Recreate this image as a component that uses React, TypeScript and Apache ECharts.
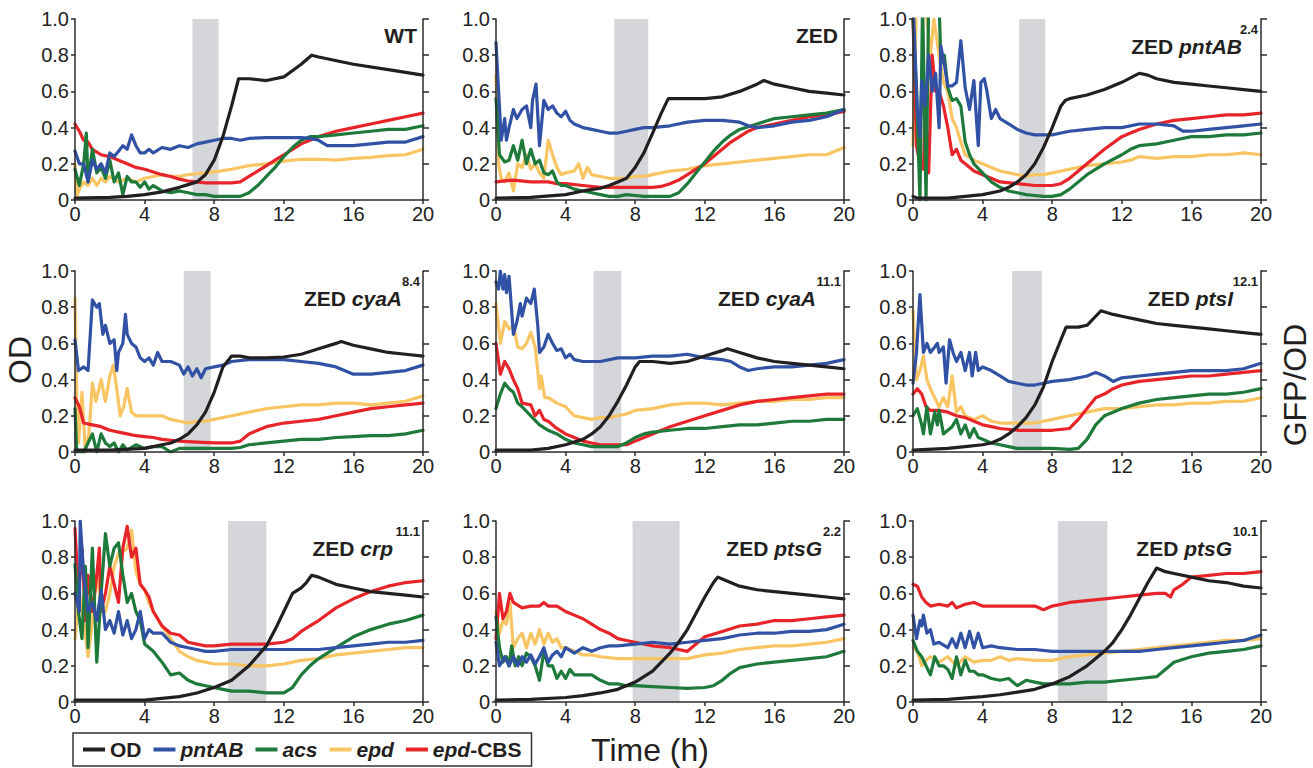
import React, { useEffect, useRef } from "react";
import * as echarts from "echarts";

// ---- data: flat [t, v, t, v, ...] lists ----
const WT_OD = [0,.01, 2,.015, 3,.02, 4,.03, 5,.045, 6,.07, 6.5,.085, 7,.1, 7.5,.14, 8,.22, 8.5,.35, 9,.52, 9.4,.67, 10,.67, 11,.66, 12,.68, 13,.75, 13.6,.8, 14,.79, 16,.75, 18,.72, 20,.69];
const WT_PNT = [0,.27, .25,.2, .5,.2, .75,.1, 1,.22, 1.25,.17, 1.5,.2, 1.75,.15, 2,.26, 2.25,.24, 2.5,.27, 2.75,.3, 3,.28, 3.25,.36, 3.5,.3, 3.75,.26, 4,.26, 4.25,.28, 4.5,.26, 5,.29, 5.5,.28, 6,.3, 6.5,.29, 7,.31, 7.5,.32, 8,.33, 8.5,.34, 9,.34, 9.5,.33, 10,.34, 11,.345, 12,.345, 13,.345, 13.5,.34, 14,.33, 14.5,.3, 15,.3, 16,.3, 17,.31, 18,.32, 19,.32, 20,.35];
const WT_ACS = [0,.17, .25,.08, .5,.2, .65,.37, .75,.1, 1,.28, 1.25,.15, 1.5,.18, 1.75,.12, 2,.22, 2.25,.1, 2.5,.15, 2.75,.03, 3,.13, 3.25,.1, 3.5,.1, 3.75,.07, 4,.1, 4.25,.06, 4.5,.08, 5,.05, 5.5,.04, 6,.05, 6.5,.04, 7,.03, 7.5,.03, 8,.02, 8.5,.02, 9,.02, 9.5,.02, 10,.04, 10.5,.08, 11,.13, 11.5,.18, 12,.24, 12.5,.29, 13,.33, 13.5,.35, 14,.35, 15,.36, 16,.37, 17,.38, 18,.39, 19,.39, 20,.41];
const WT_EPD = [0,.2, .1,.02, .25,.06, .5,.1, .75,.08, 1,.12, 1.25,.08, 1.5,.12, 1.75,.1, 2,.13, 2.5,.1, 3,.12, 3.5,.1, 4,.12, 4.5,.13, 5,.14, 5.5,.13, 6,.13, 6.5,.14, 7,.145, 7.5,.15, 8,.155, 9,.17, 10,.19, 11,.2, 12,.215, 13,.225, 14,.225, 15,.22, 16,.23, 17,.235, 18,.245, 19,.25, 20,.28];
const WT_CBS = [0,.42, .25,.38, .5,.33, .75,.32, 1,.28, 1.5,.25, 2,.24, 2.5,.22, 3,.2, 3.5,.18, 4,.17, 4.5,.155, 5,.14, 5.5,.13, 6,.115, 6.5,.105, 7,.1, 7.5,.095, 8,.095, 8.5,.095, 9,.095, 9.5,.1, 10,.13, 10.5,.16, 11,.19, 11.5,.22, 12,.25, 12.5,.28, 13,.31, 13.5,.33, 14,.35, 15,.38, 16,.4, 17,.42, 18,.44, 19,.46, 20,.48];

const ZED_OD = [0,.01, 2,.015, 4,.03, 5,.05, 6,.065, 6.5,.08, 7,.1, 7.5,.12, 8,.18, 8.5,.26, 9,.37, 9.5,.48, 9.9,.56, 10.5,.56, 11,.56, 12,.56, 13,.57, 14,.6, 15,.64, 15.4,.66, 16,.64, 17,.62, 18,.6, 19,.59, 20,.58];
const ZED_PNT = [0,.87, .15,.6, .3,.33, .5,.45, .6,.33, .75,.4, 1,.5, 1.2,.45, 1.5,.5, 1.75,.52, 2,.4, 2.1,.55, 2.3,.64, 2.5,.3, 2.75,.55, 3,.5, 3.25,.52, 3.5,.48, 3.75,.46, 4,.49, 4.25,.44, 4.5,.42, 5,.4, 5.5,.39, 6,.38, 6.5,.37, 7,.37, 7.5,.38, 8,.39, 8.5,.4, 9,.4, 10,.41, 11,.43, 12,.44, 13,.44, 14,.43, 14.5,.41, 15,.4, 16,.41, 17,.43, 18,.44, 19,.46, 20,.5];
const ZED_ACS = [0,.56, .2,.25, .5,.21, .75,.22, 1,.3, 1.25,.22, 1.5,.33, 1.75,.2, 2,.28, 2.25,.2, 2.5,.22, 2.75,.15, 3,.14, 3.25,.16, 3.5,.1, 3.75,.08, 4,.08, 4.5,.06, 5,.05, 5.5,.04, 6,.03, 6.5,.02, 7,.02, 7.5,.03, 8,.025, 8.5,.02, 9,.02, 9.5,.02, 10,.02, 10.5,.04, 11,.09, 11.5,.15, 12,.21, 12.5,.27, 13,.32, 13.5,.36, 14,.39, 15,.42, 16,.45, 17,.46, 18,.47, 19,.48, 20,.5];
const ZED_EPD = [0,.69, .15,.2, .3,.12, .5,.1, .75,.15, 1,.05, 1.25,.2, 1.5,.18, 1.75,.25, 2,.17, 2.25,.2, 2.5,.15, 2.75,.12, 3,.33, 3.25,.25, 3.5,.18, 3.75,.14, 4,.15, 4.5,.16, 4.75,.2, 5,.12, 5.25,.18, 5.5,.14, 6,.13, 6.5,.12, 7,.12, 7.5,.12, 8,.13, 8.5,.13, 9,.14, 10,.16, 11,.17, 12,.19, 13,.2, 14,.21, 15,.22, 16,.23, 17,.24, 18,.25, 19,.25, 20,.29];
const ZED_CBS = [0,.1, 1,.11, 2,.1, 3,.1, 3.5,.09, 4,.09, 5,.08, 6,.07, 7,.07, 8,.07, 9,.07, 9.5,.075, 10,.09, 10.5,.11, 11,.14, 11.5,.17, 12,.2, 12.5,.24, 13,.28, 13.5,.32, 14,.35, 14.5,.38, 15,.4, 16,.42, 17,.44, 18,.46, 19,.47, 20,.49];

const PNT_OD = [0,.02, .25,.01, 1,.01, 2,.01, 3,.02, 4,.03, 5,.05, 5.5,.07, 6,.1, 6.5,.14, 7,.2, 7.5,.29, 8,.4, 8.5,.52, 8.75,.55, 9,.56, 10,.58, 11,.61, 12,.65, 12.8,.69, 13,.7, 13.5,.69, 14,.67, 15,.65, 16,.64, 17,.63, 18,.62, 19,.61, 20,.6];
const PNT_PNT = [0,1.1, .25,.5, .4,.35, .5,.66, .7,.52, .9,.8, 1.1,.6, 1.3,.7, 1.5,.4, 1.6,.85, 1.8,.75, 2,.63, 2.25,.63, 2.5,.65, 2.75,.88, 3,.62, 3.25,.5, 3.5,.66, 3.75,.3, 3.9,.65, 4.1,.67, 4.25,.6, 4.5,.45, 4.75,.5, 5,.45, 5.5,.42, 6,.39, 6.5,.37, 7,.36, 7.5,.36, 8,.36, 8.5,.37, 9,.38, 10,.39, 11,.4, 12,.4, 13,.42, 14,.42, 15,.41, 15.5,.38, 16,.38, 17,.39, 18,.4, 19,.41, 20,.42];
const PNT_ACS = [0,1.0, .2,.6, .4,0, .55,1.1, .75,0, .9,1.1, 1.2,1.1, 1.5,1.1, 1.6,.75, 1.8,.8, 2,.62, 2.25,.55, 2.5,.56, 2.75,.52, 3,.32, 3.25,.25, 3.5,.2, 4,.15, 4.5,.1, 5,.07, 5.5,.05, 6,.04, 6.5,.03, 7,.025, 7.5,.02, 8,.02, 8.5,.03, 9,.06, 10,.14, 11,.2, 12,.25, 12.5,.28, 13,.3, 14,.31, 15,.33, 16,.35, 17,.35, 18,.36, 19,.36, 20,.37];
const PNT_EPD = [0,.3, .2,1.1, .5,1.1, .8,1.0, 1,.8, 1.2,1.0, 1.5,.8, 1.75,.65, 2,.6, 2.25,.45, 2.5,.4, 2.75,.32, 3,.25, 3.5,.22, 4,.2, 4.5,.18, 5,.16, 5.5,.15, 6,.14, 6.5,.13, 7,.14, 7.5,.14, 8,.15, 9,.17, 10,.19, 11,.2, 12,.21, 12.5,.22, 13,.24, 14,.23, 15,.24, 16,.24, 17,.25, 18,.25, 19,.26, 20,.25];
const PNT_CBS = [0,1.0, .2,.3, .4,.2, .6,.17, .7,.5, .9,.15, 1.1,.8, 1.3,.6, 1.5,.6, 1.75,.52, 2,.4, 2.25,.25, 2.5,.28, 2.75,.22, 3,.2, 3.5,.16, 4,.14, 4.5,.12, 5,.1, 6,.09, 7,.08, 8,.08, 8.5,.09, 9,.12, 10,.2, 11,.28, 12,.35, 12.5,.37, 13,.39, 14,.42, 15,.44, 16,.45, 17,.46, 18,.47, 19,.47, 20,.48];

const CYA8_OD = [0,.01, 2,.01, 4,.02, 5,.04, 5.5,.05, 6,.07, 6.5,.1, 7,.15, 7.5,.22, 8,.33, 8.5,.47, 9,.53, 9.5,.53, 10,.52, 11,.52, 12,.525, 13,.54, 14,.57, 15,.6, 15.3,.61, 16,.59, 17,.57, 18,.55, 19,.54, 20,.53];
const CYA8_PNT = [0,.62, .2,.45, .5,.47, .75,.45, 1,.84, 1.25,.8, 1.4,.82, 1.6,.65, 1.75,.7, 2,.6, 2.25,.62, 2.4,.45, 2.5,.55, 2.75,.6, 2.9,.76, 3,.65, 3.25,.6, 3.5,.58, 3.75,.52, 4,.5, 4.25,.52, 4.5,.48, 4.75,.55, 5,.5, 5.5,.5, 6,.48, 6.25,.43, 6.5,.47, 6.75,.42, 7,.46, 7.25,.41, 7.5,.46, 8,.47, 8.5,.48, 9,.5, 10,.51, 11,.51, 12,.51, 13,.5, 14,.49, 15,.47, 16,.43, 17,.43, 18,.44, 19,.45, 20,.48];
const CYA8_ACS = [0,.24, .1,0, .5,0, .75,.05, 1,.1, 1.25,0, 1.5,.1, 1.75,.05, 2,.03, 2.25,.05, 2.5,0, 2.75,.04, 3,.01, 3.5,.04, 4,.02, 4.5,.03, 5,.03, 5.5,0, 6,.02, 6.5,.02, 7,.02, 8,.02, 9,.02, 9.5,.025, 10,.04, 11,.05, 12,.06, 13,.07, 14,.07, 15,.08, 16,.085, 17,.09, 18,.09, 19,.1, 20,.12];
const CYA8_EPD = [0,.85, .1,.3, .2,.05, .4,.33, .6,0, .8,.1, 1,.38, 1.2,.28, 1.5,.4, 1.75,.28, 2,.42, 2.2,.48, 2.4,.35, 2.6,.2, 2.8,.25, 3,.35, 3.25,.22, 3.5,.2, 4,.2, 4.5,.2, 5,.2, 5.5,.18, 6,.17, 6.5,.16, 7,.17, 7.5,.17, 8,.18, 9,.2, 10,.22, 11,.24, 12,.25, 13,.26, 14,.26, 15,.27, 16,.27, 17,.26, 18,.27, 19,.28, 20,.31];
const CYA8_CBS = [0,.3, .25,.25, .5,.16, 1,.15, 1.5,.14, 2,.12, 2.5,.11, 3,.1, 3.5,.09, 4,.085, 4.5,.08, 5,.07, 5.5,.065, 6,.06, 7,.055, 8,.05, 9,.05, 9.5,.06, 10,.1, 11,.14, 12,.16, 13,.17, 14,.18, 15,.2, 16,.22, 17,.24, 18,.25, 19,.26, 20,.27];

const CYA11_OD = [0,.01, 2,.01, 3,.02, 4,.04, 5,.07, 5.5,.1, 6,.14, 6.5,.2, 7,.28, 7.5,.37, 8,.47, 8.25,.5, 9,.5, 10,.49, 11,.5, 12,.53, 13,.56, 13.3,.57, 14,.55, 15,.52, 16,.5, 17,.49, 18,.48, 19,.47, 20,.46];
const CYA11_PNT = [0,.94, .15,.9, .25,1.0, .4,.9, .5,.98, .6,.88, .75,.97, 1,.65, 1.2,.72, 1.4,.82, 1.5,.75, 1.75,.85, 2,.82, 2.2,.9, 2.4,.7, 2.5,.55, 2.75,.58, 3,.65, 3.25,.6, 3.5,.56, 3.75,.57, 4,.52, 4.25,.54, 4.5,.51, 5,.5, 5.5,.5, 6,.5, 7,.52, 8,.52, 9,.53, 10,.53, 11,.54, 12,.52, 13,.51, 13.5,.5, 14,.47, 14.5,.45, 15,.46, 16,.47, 17,.47, 18,.48, 19,.49, 20,.51];
const CYA11_ACS = [0,.24, .25,.32, .5,.38, .75,.35, 1,.33, 1.25,.27, 1.5,.25, 2,.2, 2.5,.15, 3,.12, 3.5,.1, 4,.07, 4.5,.05, 5,.04, 5.5,.03, 6,.03, 6.5,.03, 7,.03, 7.5,.05, 8,.08, 8.5,.1, 9,.11, 10,.12, 11,.13, 12,.13, 13,.14, 14,.15, 15,.15, 16,.16, 17,.17, 18,.17, 19,.18, 20,.18];
const CYA11_EPD = [0,.82, .25,.6, .5,.72, .75,.68, 1,.7, 1.25,.58, 1.5,.57, 1.75,.6, 2,.66, 2.25,.58, 2.4,.45, 2.5,.35, 2.6,.42, 2.8,.3, 3,.3, 3.5,.27, 4,.25, 4.5,.2, 5,.19, 5.5,.18, 6,.19, 6.5,.19, 7,.2, 7.5,.21, 8,.23, 9,.24, 10,.26, 11,.27, 12,.27, 13,.26, 14,.27, 15,.28, 16,.28, 17,.29, 18,.29, 19,.3, 20,.3];
const CYA11_CBS = [0,.6, .25,.43, .5,.5, .75,.46, 1,.4, 1.25,.35, 1.5,.27, 2,.26, 2.25,.2, 2.5,.23, 2.75,.18, 3,.17, 3.5,.13, 4,.1, 4.5,.08, 5,.06, 5.5,.05, 6,.04, 6.5,.04, 7,.04, 7.5,.04, 8,.06, 9,.1, 10,.14, 11,.17, 12,.2, 13,.23, 14,.26, 15,.28, 16,.29, 17,.3, 18,.31, 19,.32, 20,.32];

const PTSI_OD = [0,.01, 2,.02, 3,.03, 4,.04, 4.5,.05, 5,.07, 5.5,.1, 6,.14, 6.5,.19, 7,.26, 7.5,.36, 8,.5, 8.5,.62, 8.8,.69, 9.5,.69, 10,.7, 10.5,.75, 10.8,.78, 11.5,.76, 12,.75, 13,.73, 14,.71, 15,.7, 16,.69, 17,.68, 18,.67, 19,.66, 20,.65];
const PTSI_PNT = [0,.38, .2,.55, .4,.87, .6,.55, .8,.6, 1,.55, 1.25,.58, 1.4,.6, 1.5,.55, 1.75,.58, 1.9,.38, 2.1,.62, 2.3,.55, 2.5,.5, 2.75,.55, 3,.45, 3.25,.55, 3.4,.42, 3.6,.55, 3.75,.45, 4,.47, 4.5,.45, 5,.42, 5.5,.39, 6,.38, 6.5,.37, 7,.37, 7.5,.38, 8,.39, 9,.4, 10,.42, 10.5,.44, 11,.42, 11.5,.39, 12,.41, 13,.42, 14,.43, 15,.44, 16,.45, 17,.45, 18,.45, 19,.46, 20,.49];
const PTSI_ACS = [0,.2, .25,.24, .5,.15, .6,.1, .8,.25, 1,.1, 1.25,.22, 1.4,.15, 1.5,.23, 1.75,.1, 2,.12, 2.25,.14, 2.5,.18, 2.75,.1, 3,.15, 3.25,.08, 3.5,.13, 3.75,.08, 4,.07, 4.5,.05, 5,.04, 5.5,.03, 6,.02, 7,.02, 8,.02, 9,.015, 9.5,.02, 10,.07, 10.5,.15, 11,.2, 11.5,.22, 12,.24, 13,.27, 14,.29, 15,.3, 16,.31, 17,.32, 18,.32, 19,.33, 20,.35];
const PTSI_EPD = [0,.78, .2,.4, .4,.45, .6,.53, .8,.4, 1,.35, 1.25,.3, 1.5,.25, 1.75,.3, 2,.25, 2.25,.42, 2.5,.22, 2.75,.25, 3,.2, 3.5,.18, 4,.2, 4.5,.17, 5,.16, 6,.16, 7,.16, 8,.18, 9,.2, 10,.22, 11,.24, 12,.24, 13,.25, 14,.26, 15,.26, 16,.27, 17,.27, 18,.28, 19,.28, 20,.3];
const PTSI_CBS = [0,.32, .25,.35, .5,.32, .75,.25, 1,.23, 1.5,.23, 2,.22, 2.5,.2, 3,.19, 3.5,.17, 4,.15, 4.5,.14, 5,.13, 6,.12, 7,.12, 8,.12, 9,.13, 9.5,.18, 10,.24, 10.5,.3, 11,.32, 11.5,.35, 12,.37, 13,.39, 14,.4, 15,.41, 16,.42, 17,.42, 18,.43, 19,.44, 20,.45];

const CRP_OD = [0,.01, 2,.01, 4,.01, 5,.02, 6,.03, 7,.05, 8,.08, 9,.12, 10,.2, 11,.31, 11.5,.4, 12,.5, 12.5,.6, 13,.63, 13.3,.66, 13.6,.7, 14,.69, 15,.65, 16,.63, 17,.61, 18,.6, 19,.59, 20,.58];
const CRP_PNT = [0,.6, .25,.5, .3,1.0, .5,.7, .75,.5, 1,.55, 1.25,.45, 1.5,.62, 1.75,.4, 2,.45, 2.25,.38, 2.5,.5, 2.75,.37, 3,.45, 3.25,.35, 3.5,.4, 3.75,.5, 4,.35, 4.25,.4, 4.5,.38, 5,.38, 5.5,.33, 6,.31, 6.5,.3, 7,.29, 7.5,.28, 8,.28, 9,.29, 10,.29, 11,.29, 12,.29, 13,.29, 14,.29, 15,.3, 16,.31, 17,.32, 18,.33, 19,.33, 20,.34];
const CRP_ACS = [0,.76, .2,.5, .4,.35, .6,.75, .75,.3, 1,.85, 1.25,.22, 1.5,.6, 1.75,.93, 2,.75, 2.25,.85, 2.5,.88, 2.75,.7, 3,.55, 3.25,.6, 3.5,.5, 3.75,.45, 4,.32, 4.5,.28, 5,.22, 5.5,.15, 6,.16, 6.5,.12, 7,.1, 7.5,.09, 8,.08, 8.5,.07, 9,.06, 10,.06, 11,.05, 12,.05, 12.5,.08, 13,.15, 13.5,.2, 14,.24, 15,.3, 16,.36, 17,.4, 18,.43, 19,.45, 20,.48];
const CRP_EPD = [0,.35, .25,.6, .5,.45, .75,.25, 1,.45, 1.25,.7, 1.5,.55, 1.75,.5, 2,.6, 2.25,.75, 2.5,.82, 2.75,.83, 3,.85, 3.25,.95, 3.5,.72, 3.75,.65, 4,.62, 4.25,.55, 4.5,.5, 5,.42, 5.5,.35, 6,.28, 6.5,.25, 7,.23, 7.5,.22, 8,.21, 9,.21, 10,.2, 11,.2, 12,.21, 13,.23, 14,.24, 15,.26, 16,.27, 17,.28, 18,.29, 19,.3, 20,.3];
const CRP_CBS = [0,.96, .2,.6, .4,.85, .6,.45, .75,.7, 1,.5, 1.25,.7, 1.4,.85, 1.5,.5, 1.75,.6, 2,.75, 2.25,.65, 2.5,.55, 2.75,.85, 3,.97, 3.25,.8, 3.5,.85, 3.75,.65, 4,.62, 4.25,.58, 4.5,.5, 5,.42, 5.5,.38, 6,.37, 6.5,.33, 7,.32, 7.5,.31, 8,.31, 9,.32, 10,.32, 11,.32, 12,.33, 12.5,.35, 13,.39, 13.5,.42, 14,.45, 15,.52, 16,.57, 17,.61, 18,.64, 19,.66, 20,.67];

const G22_OD = [0,.01, 2,.015, 4,.025, 5,.035, 6,.05, 7,.07, 8,.11, 9,.17, 10,.27, 10.5,.33, 11,.4, 11.5,.49, 12,.58, 12.5,.66, 12.75,.69, 13,.68, 14,.64, 15,.62, 16,.61, 17,.6, 18,.59, 19,.58, 20,.57];
const G22_PNT = [0,.33, .2,.2, .5,.25, .75,.2, 1,.25, 1.25,.2, 1.5,.25, 1.75,.22, 2,.26, 2.25,.21, 2.5,.25, 2.75,.3, 3,.22, 3.25,.26, 3.5,.28, 3.75,.25, 4,.3, 4.5,.27, 5,.3, 5.5,.28, 6,.3, 6.5,.31, 7,.31, 8,.32, 9,.33, 10,.32, 11,.33, 12,.34, 13,.35, 14,.37, 15,.38, 16,.38, 17,.39, 18,.39, 19,.4, 20,.43];
const G22_ACS = [0,.47, .2,.3, .4,.22, .6,.25, .75,.2, .9,.31, 1.1,.2, 1.3,.25, 1.5,.2, 1.75,.27, 2,.25, 2.25,.2, 2.5,.12, 2.75,.28, 3,.2, 3.25,.2, 3.5,.13, 3.75,.17, 4,.13, 4.25,.18, 4.5,.15, 5,.15, 5.5,.15, 6,.12, 6.5,.1, 7,.1, 7.5,.09, 8,.09, 9,.085, 10,.08, 11,.075, 12,.08, 12.5,.09, 13,.12, 13.5,.16, 14,.19, 15,.21, 16,.22, 17,.23, 18,.24, 19,.25, 20,.28];
const G22_EPD = [0,.5, .2,.38, .4,.45, .6,.43, .8,.55, 1,.3, 1.25,.35, 1.5,.38, 1.75,.3, 2,.38, 2.25,.32, 2.5,.4, 2.75,.32, 3,.38, 3.25,.33, 3.5,.35, 3.75,.3, 4,.3, 4.5,.28, 5,.26, 5.5,.26, 6,.25, 7,.24, 8,.24, 9,.24, 10,.24, 11,.24, 12,.26, 13,.27, 14,.29, 15,.3, 16,.31, 17,.31, 18,.32, 19,.33, 20,.35];
const G22_CBS = [0,.35, .2,.6, .4,.46, .6,.5, .8,.6, 1,.55, 1.5,.52, 2,.53, 2.5,.53, 2.75,.55, 3,.53, 3.5,.53, 4,.5, 4.5,.48, 5,.46, 5.5,.43, 6,.4, 6.5,.38, 7,.35, 7.5,.34, 8,.33, 9,.31, 10,.3, 10.5,.29, 11,.28, 11.5,.32, 12,.36, 13,.39, 14,.42, 15,.43, 16,.45, 17,.45, 18,.46, 19,.47, 20,.48];

const G101_OD = [0,.01, 2,.015, 4,.03, 5,.04, 6,.055, 7,.07, 8,.1, 9,.14, 10,.2, 11,.28, 11.5,.33, 12,.4, 12.5,.48, 13,.57, 13.5,.66, 14,.74, 14.5,.72, 15,.71, 16,.69, 17,.67, 18,.66, 19,.64, 20,.63];
const G101_PNT = [0,.48, .2,.35, .4,.45, .5,.42, .6,.48, .8,.38, 1,.4, 1.2,.32, 1.5,.33, 2,.3, 2.25,.35, 2.5,.3, 2.75,.38, 3,.3, 3.25,.39, 3.5,.3, 3.75,.38, 4,.3, 4.5,.31, 5,.3, 6,.29, 7,.29, 8,.28, 9,.28, 10,.28, 11,.28, 12,.28, 13,.28, 14,.29, 15,.3, 16,.31, 17,.32, 18,.33, 19,.34, 20,.37];
const G101_ACS = [0,.34, .25,.28, .5,.25, .75,.2, 1,.15, 1.25,.25, 1.5,.2, 1.75,.2, 2,.18, 2.25,.13, 2.5,.25, 2.75,.15, 3,.23, 3.25,.17, 3.5,.17, 3.75,.15, 4,.15, 4.5,.13, 5,.12, 5.5,.13, 6,.09, 6.5,.12, 7,.11, 7.5,.1, 8,.1, 9,.1, 10,.11, 11,.11, 12,.12, 13,.13, 14,.14, 14.5,.18, 15,.22, 16,.25, 17,.27, 18,.28, 19,.29, 20,.31];
const G101_EPD = [0,.3, .25,.28, .5,.2, .75,.23, 1,.25, 1.5,.22, 2,.25, 2.5,.2, 3,.25, 3.5,.22, 4,.23, 4.5,.23, 5,.25, 5.5,.23, 6,.24, 7,.23, 8,.23, 9,.25, 10,.26, 11,.27, 12,.28, 13,.29, 14,.3, 15,.31, 16,.32, 17,.33, 18,.34, 19,.34, 20,.35];
const G101_CBS = [0,.65, .25,.64, .5,.58, .75,.55, 1,.53, 1.5,.54, 2,.53, 2.25,.55, 2.5,.52, 3,.54, 3.5,.55, 4,.53, 5,.53, 6,.53, 7,.53, 7.5,.51, 8,.53, 9,.55, 10,.56, 11,.57, 12,.58, 13,.59, 14,.6, 14.5,.6, 14.8,.58, 15,.62, 15.5,.65, 16,.69, 17,.7, 18,.71, 19,.71, 20,.72];

// shaded time windows (h)
const SHADES = [[6.75, 8.25], [6.8, 8.75], [6.1, 7.6], [6.25, 7.8], [5.6, 7.2], [5.7, 7.4], [8.8, 11.0], [7.85, 10.55], [8.33, 11.17]];
const TITLES_MAIN = ["WT", "ZED", "ZED", "ZED", "ZED", "ZED", "ZED", "ZED", "ZED"];
const TITLES_GENE = ["", "", "pntAB", "cyaA", "cyaA", "ptsI", "crp", "ptsG", "ptsG"];
const TITLES_SUP = ["", "", "2.4", "8.4", "11.1", "12.1", "11.1", "2.2", "10.1"];
const TITLE_RIGHT_OFFSET = [6, 6, 19, 21, 28, 28, 30, 22, 29];

const SERIES_NAMES = ["OD", "pntAB", "acs", "epd", "epd-CBS"];

const PANEL_DATA = [
  [WT_OD, WT_PNT, WT_ACS, WT_EPD, WT_CBS],
  [ZED_OD, ZED_PNT, ZED_ACS, ZED_EPD, ZED_CBS],
  [PNT_OD, PNT_PNT, PNT_ACS, PNT_EPD, PNT_CBS],
  [CYA8_OD, CYA8_PNT, CYA8_ACS, CYA8_EPD, CYA8_CBS],
  [CYA11_OD, CYA11_PNT, CYA11_ACS, CYA11_EPD, CYA11_CBS],
  [PTSI_OD, PTSI_PNT, PTSI_ACS, PTSI_EPD, PTSI_CBS],
  [CRP_OD, CRP_PNT, CRP_ACS, CRP_EPD, CRP_CBS],
  [G22_OD, G22_PNT, G22_ACS, G22_EPD, G22_CBS],
  [G101_OD, G101_PNT, G101_ACS, G101_EPD, G101_CBS],
];

const COLORS = ["#231f20", "#3152a4", "#1d7a3b", "#f9c563", "#e6242a"];
const FONT = "'Liberation Sans', Arial, sans-serif";

function toPairs(a: number[]): number[][] {
  const out: number[][] = [];
  for (let i = 0; i + 1 < a.length; i += 2) out.push([a[i], a[i + 1]]);
  return out;
}

const COL_LEFT = [75, 496, 913];
const ROW_TOP = [19, 271, 521];
const GW = 348;
const GH = 181;

function buildOption() {
  const grid: any[] = [];
  const xAxis: any[] = [];
  const yAxis: any[] = [];
  const series: any[] = [];
  const graphic: any[] = [];
  const axisColor = "#2b2b2b";

  PANEL_DATA.forEach((lines, i) => {
    const left = COL_LEFT[i % 3];
    const top = ROW_TOP[Math.floor(i / 3)];
    grid.push({ left, top, width: GW, height: GH, containLabel: false });
    xAxis.push({
      type: "value", gridIndex: i, min: 0, max: 20, interval: 4,
      axisLine: { show: true, lineStyle: { color: axisColor, width: 1.5 } },
      axisTick: { show: true, length: 4, lineStyle: { color: axisColor, width: 1.5 } },
      axisLabel: { color: "#222", fontSize: 20, fontFamily: FONT, margin: 4 },
      splitLine: { show: false },
      z: 10,
    });
    yAxis.push({
      type: "value", gridIndex: i, min: 0, max: 1, interval: 0.2, position: "left",
      axisLine: { show: true, lineStyle: { color: axisColor, width: 1.5 } },
      axisTick: { show: true, length: 4, lineStyle: { color: axisColor, width: 1.5 } },
      axisLabel: { color: "#222", fontSize: 20, fontFamily: FONT, margin: 6,
        formatter: (v: number) => (v === 0 ? "0" : v.toFixed(1)) },
      splitLine: { show: false },
      z: 10,
    });
    yAxis.push({
      type: "value", gridIndex: i, min: 0, max: 1, interval: 0.2, position: "right",
      axisLine: { show: true, lineStyle: { color: axisColor, width: 1.5 } },
      axisTick: { show: true, length: 6, lineStyle: { color: axisColor, width: 1.5 } },
      axisLabel: { show: false },
      splitLine: { show: false },
      z: 10,
    });

    // shaded band in its own bottom-most series
    series.push({
      type: "line", name: "band" + i, xAxisIndex: i, yAxisIndex: 2 * i,
      data: [], z: 1, silent: true, showSymbol: false,
      markArea: {
        silent: true,
        itemStyle: { color: "#d4d6d9" },
        data: [[{ xAxis: SHADES[i][0] }, { xAxis: SHADES[i][1] }]],
      },
    });

    // draw order: epd, epd-CBS, acs, pntAB, OD (on top)
    const order = [3, 4, 2, 1, 0];
    order.forEach((k, j) => {
      series.push({
        type: "line", name: SERIES_NAMES[k], xAxisIndex: i, yAxisIndex: 2 * i,
        data: toPairs(lines[k]), showSymbol: false, symbol: "none", clip: true,
        z: 3 + j,
        lineStyle: { color: COLORS[k], width: 3.2, join: "round", cap: "round" },
        itemStyle: { color: COLORS[k] },
        emphasis: { disabled: true },
      });
    });

    // titles
    const right = left + GW;
    const gene = TITLES_GENE[i];
    const sup = TITLES_SUP[i];
    const text = gene ? `{n|${TITLES_MAIN[i]} }{g|${gene}}` : `{n|${TITLES_MAIN[i]}}`;
    graphic.push({
      type: "text", z: 100,
      x: right - TITLE_RIGHT_OFFSET[i],
      y: top + (sup ? 38 : 27),
      style: {
        text,
        align: "right", verticalAlign: "bottom",
        rich: {
          n: { fontSize: 21, fontWeight: "bold", fontFamily: FONT, fill: "#231f20" },
          g: { fontSize: 21, fontWeight: "bold", fontStyle: "italic", fontFamily: FONT, fill: "#231f20" },
        },
      },
    });
    if (sup) {
      graphic.push({
        type: "text", z: 100, x: right - 3, y: top + 4,
        style: { text: sup, align: "right", verticalAlign: "top",
          font: `bold 13px ${FONT}`, fill: "#231f20" },
      });
    }
  });

  graphic.push({
    type: "text", x: 20, y: 360, rotation: Math.PI / 2,
    style: { text: "OD", align: "center", verticalAlign: "middle", font: `32px ${FONT}`, fill: "#231f20" },
  });
  graphic.push({
    type: "text", x: 1295, y: 385, rotation: Math.PI / 2,
    style: { text: "GFP/OD", align: "center", verticalAlign: "middle", font: `32px ${FONT}`, fill: "#231f20" },
  });
  graphic.push({
    type: "text", x: 650, y: 750,
    style: { text: "Time (h)", align: "center", verticalAlign: "middle", font: `32px ${FONT}`, fill: "#231f20" },
  });

  const legend = {
    data: SERIES_NAMES,
    left: 73, top: 733,
    orient: "horizontal",
    icon: "rect", itemWidth: 22, itemHeight: 4, itemGap: 12,
    padding: [6, 10, 6, 10],
    borderColor: "#333", borderWidth: 1.5,
    selectedMode: false,
    formatter: (name: string) => {
      if (name === "OD") return "{b|OD}";
      if (name === "epd-CBS") return "{i|epd}{b|-CBS}";
      return `{i|${name}}`;
    },
    textStyle: {
      fontSize: 21, fontFamily: FONT, color: "#231f20",
      rich: {
        b: { fontSize: 21, fontWeight: "bold", fontFamily: FONT, color: "#231f20" },
        i: { fontSize: 21, fontWeight: "bold", fontStyle: "italic", fontFamily: FONT, color: "#231f20" },
      },
    },
  };

  return {
    animation: false,
    backgroundColor: "#ffffff",
    grid, xAxis, yAxis, series, graphic, legend,
  };
}

export default function App() {
  const ref = useRef<HTMLDivElement>(null);
  useEffect(() => {
    if (!ref.current) return;
    const chart = echarts.init(ref.current, null, { renderer: "svg" });
    chart.setOption(buildOption() as any);
    return () => chart.dispose();
  }, []);
  return (
    <div
      ref={ref}
      style={{ position: "fixed", left: 0, top: 0, width: 1313, height: 768, background: "#fff" }}
    />
  );
}
